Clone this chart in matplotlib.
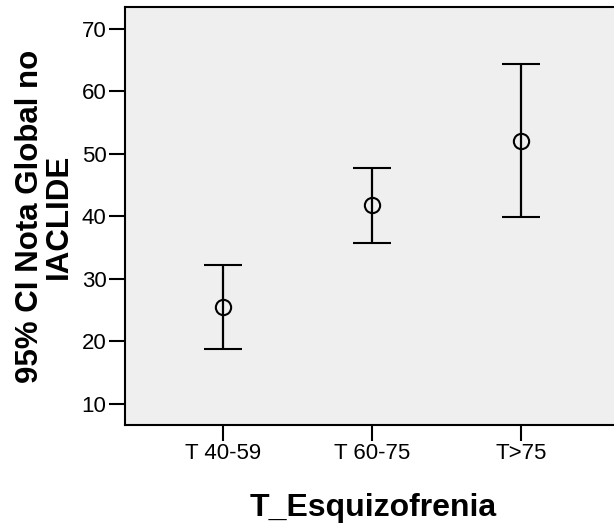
import numpy as np
import matplotlib
matplotlib.use("Agg")
from matplotlib import pyplot as plt

groups = ["T 40-59", "T 60-75", "T>75"]
means = [25.5, 41.8, 52.0]
lower = [18.8, 35.8, 39.9]
upper = [32.2, 47.8, 64.4]
yticks = [10, 20, 30, 40, 50, 60, 70]

plt.rcParams['font.family'] = ['Liberation Sans', 'DejaVu Sans']

fig = plt.figure(figsize=(6.14, 5.29), dpi=100)
# axes runs past the right edge of the figure, like the original export
ax = fig.add_axes([124.5 / 614, 1 - 425 / 529, (620 - 124.5) / 614, (425 - 7) / 529])
ax.set_facecolor("#efefef")

x = np.arange(len(groups))
means = np.array(means)
err = [means - np.array(lower), np.array(upper) - means]
ax.errorbar(x, means, yerr=err, fmt="o", color="black", mfc="none", mec="black",
            ms=11, mew=1.5, elinewidth=1.6, capsize=13.5, capthick=1.6)

ax.set_xlim(-0.665, 2.665)
ax.set_ylim(6.6, 73.5)
ax.set_xticks(x)
ax.set_xticklabels(groups)
ax.set_yticks(yticks)
ax.tick_params(axis="both", direction="out", length=11.5, width=1.5, labelsize=16, pad=1.5)
for side in ["top", "left", "bottom", "right"]:
    ax.spines[side].set_linewidth(1.5)

fig.text(44.5 / 614, 1 - 216.5 / 529, "95% CI Nota Global no\nIACLIDE", rotation=90,
         ha="center", va="center", fontsize=22.5, fontweight="bold",
         multialignment="center", linespacing=0.95)
fig.text(373 / 614, 1 - 516 / 529, "T_Esquizofrenia", ha="center", va="baseline",
         fontsize=23, fontweight="bold")

fig.savefig("out.png", dpi=100)
